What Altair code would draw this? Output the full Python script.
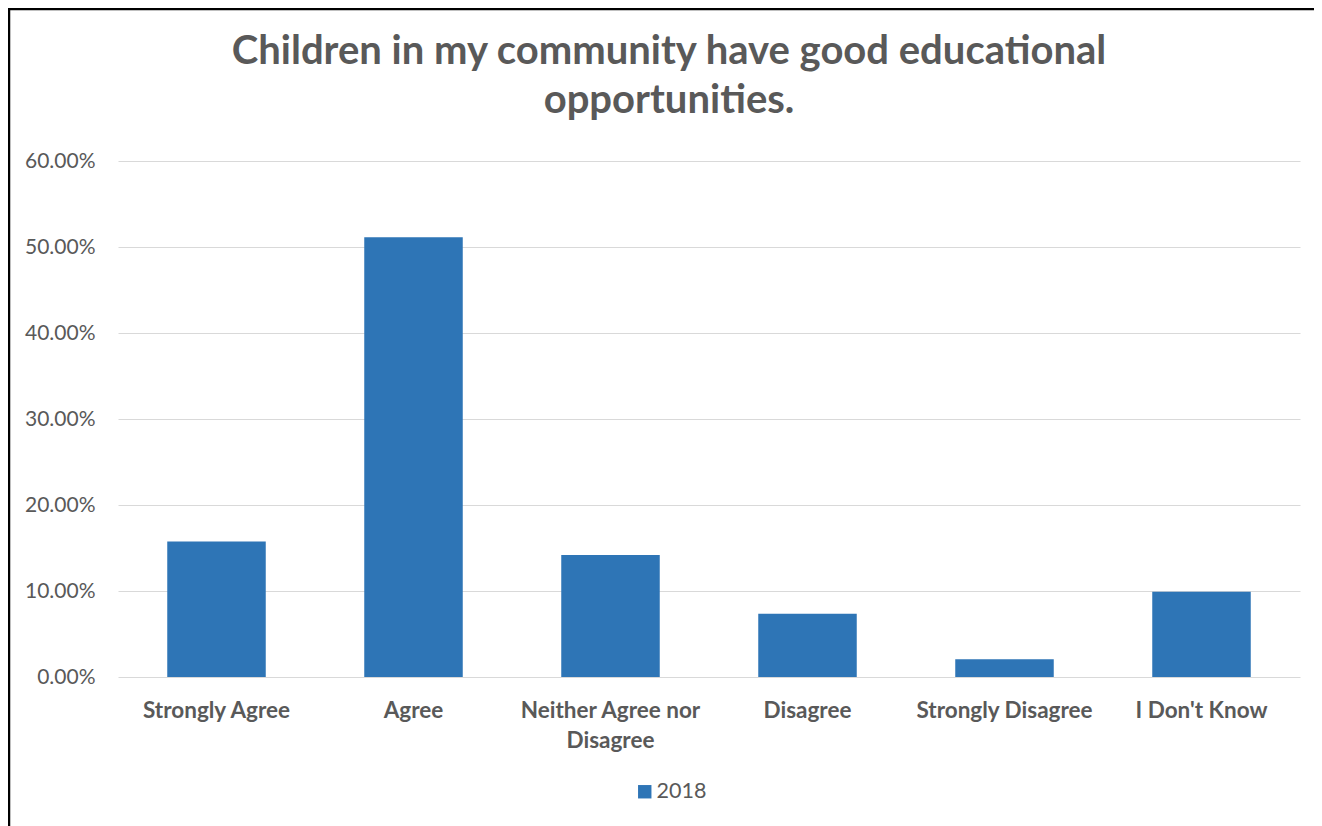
import altair as alt
import pandas as pd

categories = ["Strongly Agree", "Agree", "Neither Agree nor\nDisagree", "Disagree",
              "Strongly Disagree", "I Don't Know"]
values_2018 = [0.1577, 0.5113, 0.1419, 0.0736, 0.0205, 0.0992]
series_name = "2018"
y_ticks = [0.0, 0.1, 0.2, 0.3, 0.4, 0.5, 0.6]
title_lines = ["Children in my community have good educational", "opportunities."]

df = pd.DataFrame({"category": categories, "value": values_2018,
                   "series": [series_name] * len(categories)})

W, H = 1182, 516
FONT = "Lato"
GREY = "#595959"

bars = alt.Chart(df).mark_bar(color="#2E75B6").encode(
    x=alt.X("category:N", sort=categories,
            scale=alt.Scale(paddingInner=0.5, paddingOuter=0.25),
            axis=alt.Axis(title=None, labelAngle=0, labelFont=FONT, labelFontSize=22.5,
                          labelFontWeight="bold", labelColor=GREY, labelPadding=22,
                          labelLineHeight=30, labelLimit=400, ticks=False, domain=False,
                          labelExpr="split(datum.label, '\\n')")),
    y=alt.Y("value:Q", scale=alt.Scale(domain=[0, 0.6], nice=False),
            axis=alt.Axis(title=None, values=y_ticks, format=".2%", labelFont=FONT,
                          labelFontSize=21, labelColor=GREY, labelPadding=23,
                          ticks=False, domain=False, gridColor="#D9D9D9", gridWidth=1.2)),
    color=alt.Color("series:N", scale=alt.Scale(range=["#2E75B6"]),
                    legend=alt.Legend(title=None, orient="none", legendX=516, legendY=620,
                                      symbolType="square", symbolSize=180,
                                      labelFont=FONT, labelFontSize=21.5, labelColor=GREY,
                                      labelOffset=1)),
)

def title_line(i, y):
    d = pd.DataFrame({"line": [title_lines[i]]})
    return alt.Chart(d).mark_text(
        font=FONT, fontSize=40, fontWeight="bold", color=GREY, align="center",
        baseline="middle").encode(x=alt.value(551), y=alt.value(y), text="line:N")

title1 = title_line(0, -109)
title2 = title_line(1, -60)

frame_df = pd.DataFrame({"k": [0]})
left_frame = alt.Chart(frame_df).mark_rule(color="black", strokeWidth=2.5).encode(
    x=alt.value(-109), y=alt.value(-152), y2=alt.value(H + 200))
top_frame = alt.Chart(frame_df).mark_rule(color="black", strokeWidth=2.5).encode(
    x=alt.value(-110), x2=alt.value(W + 40), y=alt.value(-152))

chart = alt.layer(bars, title1, title2, left_frame, top_frame).properties(
    width=W, height=H,
    autosize=alt.AutoSizeParams(type="none"),
    padding={"left": 110, "top": 153, "right": 14, "bottom": 150},
).configure_view(stroke=None)

chart.save("out.html", embed_options={"renderer": "svg", "actions": False})
